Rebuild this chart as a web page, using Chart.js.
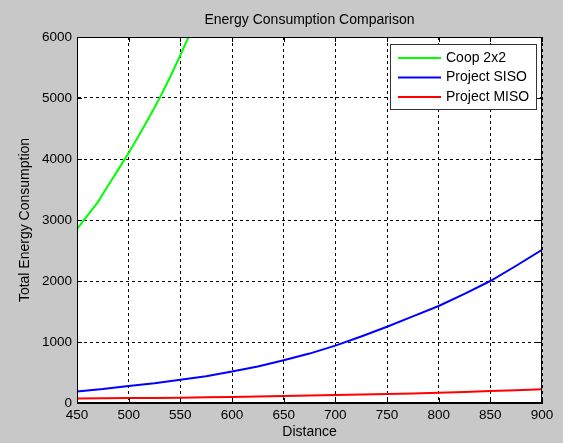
<!DOCTYPE html>
<html><head><meta charset="utf-8">
<script src="https://cdn.jsdelivr.net/npm/chart.js@4"></script>
<style>html,body{margin:0;padding:0;background:#c8c8c8;overflow:hidden}</style>
</head><body>
<canvas id="c" width="563" height="443" style="display:block;width:563px;height:443px"></canvas>
<script>
const chartTitle = 'Energy Consumption Comparison';
const seriesNames = ['Coop 2x2', 'Project SISO', 'Project MISO'];
const seriesColors = ['#00ff00', '#0000ff', '#ff0000'];
const coopDistances = [450, 460, 470, 480, 490, 500, 510, 520, 530, 540, 550, 560, 570];
const coopValues = [2850, 3070, 3290, 3560, 3830, 4100, 4390, 4690, 5000, 5340, 5700, 6080, 6470];
const distances = [450, 475, 500, 525, 550, 575, 600, 625, 650, 675, 700, 725, 750, 775, 800, 825, 850, 875, 900];
const sisoValues = [190, 230, 280, 325, 380, 440, 515, 600, 700, 810, 940, 1090, 1250, 1420, 1590, 1790, 2000, 2250, 2510];
const misoValues = [75, 78, 80, 84, 88, 94, 100, 107, 115, 122, 130, 139, 148, 157, 168, 180, 195, 210, 225];
const xTicks = [450, 500, 550, 600, 650, 700, 750, 800, 850, 900];
const yTicks = [0, 1000, 2000, 3000, 4000, 5000, 6000];

const FONT = '"Liberation Sans", Arial, sans-serif';
const pairs = (xs, ys) => xs.map((x, i) => ({x: x, y: ys[i]}));

const framePlugin = {
  id: 'frame',
  beforeDraw(chart) {
    const ctx = chart.ctx, a = chart.chartArea;
    ctx.save();
    ctx.fillStyle = '#c8c8c8';
    ctx.fillRect(0, 0, chart.width, chart.height);
    ctx.fillStyle = '#ffffff';
    ctx.fillRect(a.left, a.top, a.right - a.left, a.bottom - a.top);
    ctx.restore();
  },
  afterDraw(chart) {
    const ctx = chart.ctx, a = chart.chartArea;
    const xs = chart.scales.x, ys = chart.scales.y;
    ctx.save();
    // title centred over the plot area
    ctx.fillStyle = '#000';
    ctx.font = '14px ' + FONT;
    ctx.textAlign = 'center';
    ctx.textBaseline = 'middle';
    ctx.fillText(chartTitle, (a.left + a.right) / 2, 20);
    // frame and inward ticks
    ctx.strokeStyle = '#000';
    ctx.lineWidth = 1;
    ctx.setLineDash([]);
    ctx.strokeRect(Math.round(a.left) + 0.5, Math.round(a.top) + 0.5, Math.round(a.right - a.left) - 1, Math.round(a.bottom - a.top) - 1);
    ctx.beginPath();
    xTicks.forEach(v => {
      const px = Math.round(xs.getPixelForValue(v)) + 0.5;
      ctx.moveTo(px, a.bottom); ctx.lineTo(px, a.bottom - 5);
      ctx.moveTo(px, a.top); ctx.lineTo(px, a.top + 5);
    });
    yTicks.forEach(v => {
      const py = Math.round(ys.getPixelForValue(v)) + 0.5;
      ctx.moveTo(a.left, py); ctx.lineTo(a.left + 5, py);
      ctx.moveTo(a.right, py); ctx.lineTo(a.right - 5, py);
    });
    ctx.stroke();
    // legend
    const bx = Math.round(a.right) - 152, by = Math.round(a.top) + 7, bw = 146, bh = 65;
    ctx.fillStyle = '#ffffff';
    ctx.fillRect(bx, by, bw, bh);
    ctx.strokeStyle = '#333';
    ctx.strokeRect(bx + 0.5, by + 0.5, bw, bh);
    ctx.font = '14px ' + FONT;
    ctx.textBaseline = 'middle';
    ctx.textAlign = 'left';
    chart.data.datasets.forEach((ds, i) => {
      const ry = by + 14 + i * 19.5;
      ctx.strokeStyle = ds.borderColor;
      ctx.lineWidth = 2;
      ctx.beginPath();
      ctx.moveTo(bx + 8, ry); ctx.lineTo(bx + 51, ry);
      ctx.stroke();
      ctx.fillStyle = '#000';
      ctx.fillText(ds.label, bx + 56, ry);
    });
    ctx.restore();
  }
};

new Chart(document.getElementById('c'), {
  type: 'line',
  data: {
    datasets: [
      {label: seriesNames[0], data: pairs(coopDistances, coopValues), borderColor: seriesColors[0]},
      {label: seriesNames[1], data: pairs(distances, sisoValues), borderColor: seriesColors[1]},
      {label: seriesNames[2], data: pairs(distances, misoValues), borderColor: seriesColors[2]}
    ].map(d => Object.assign(d, {borderWidth: 2, pointRadius: 0, tension: 0, fill: false}))
  },
  options: {
    responsive: false,
    animation: false,
    devicePixelRatio: 1,
    layout: {padding: {left: 0, right: 21, top: 37, bottom: 0}},
    plugins: {
      legend: {display: false},
      tooltip: {enabled: false},
      title: {display: false}
    },
    scales: {
      x: {
        type: 'linear', min: 450, max: 900,
        afterBuildTicks: s => { s.ticks = xTicks.map(v => ({value: v})); },
        afterFit: s => { s.height = 40; },
        grid: {color: '#000', lineWidth: 1, drawTicks: false},
        border: {display: true, color: '#000', dash: [3, 3]},
        ticks: {color: '#000', font: {family: FONT, size: 13.5}, padding: 4, maxRotation: 0, callback: v => String(v)},
        title: {display: true, text: 'Distance', color: '#000', font: {family: FONT, size: 14}, padding: {top: 0, bottom: 2}}
      },
      y: {
        type: 'linear', min: 0, max: 6000,
        afterBuildTicks: s => { s.ticks = yTicks.map(v => ({value: v})); },
        afterFit: s => { s.width = 77; },
        grid: {color: '#000', lineWidth: 1, drawTicks: false},
        border: {display: true, color: '#000', dash: [3, 3]},
        ticks: {color: '#000', font: {family: FONT, size: 13.5}, padding: 5, callback: v => String(v)},
        title: {display: true, text: 'Total Energy Consumption', color: '#000', font: {family: FONT, size: 14}, padding: {top: 17, bottom: 0}}
      }
    }
  },
  plugins: [framePlugin]
});
</script>
</body></html>
